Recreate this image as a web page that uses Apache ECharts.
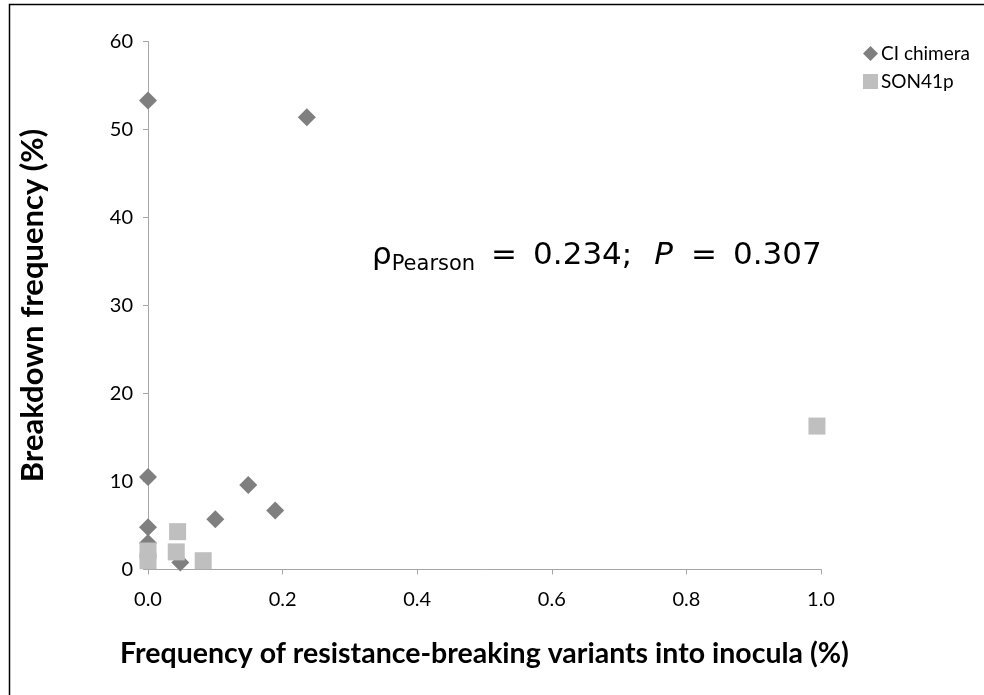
<!DOCTYPE html>
<html><head><meta charset="utf-8">
<script src="https://cdn.jsdelivr.net/npm/echarts@6/dist/echarts.min.js"></script>
<style>html,body{margin:0;padding:0;background:#fff}#c{width:984px;height:695px}</style>
</head><body><div id="c"></div>
<script>
const seriesNames = ['CI chimera', 'SON41p'];
const ciX = [0, 0.236, 0, 0, 0, 0, 0.048, 0.100, 0.149, 0.189];
const ciY = [53.3, 51.4, 10.5, 4.8, 3.0, 1.5, 0.8, 5.7, 9.6, 6.7];
const sonX = [0, 0, 0.044, 0.042, 0.082, 0.994];
const sonY = [2.1, 1.0, 4.3, 2.0, 1.0, 16.3];
const xTicks = [0, 0.2, 0.4, 0.6, 0.8, 1.0];
const yTicks = [0, 10, 20, 30, 40, 50, 60];
const xTitle = 'Frequency of resistance-breaking variants into inocula (%)';
const yTitle = 'Breakdown frequency (%)';

const chart = echarts.init(document.getElementById('c'));
const lab = {fontFamily: 'Lato', fontSize: 20, color: '#000'};
const ann = {fontFamily: 'DejaVu Sans', fontSize: 31, fill: '#000'};
chart.setOption({
  animation: false,
  backgroundColor: '#fff',
  grid: {left: 148, right: 163, top: 41.5, bottom: 125.5},
  legend: {
    orient: 'vertical', left: 858, top: 39, itemGap: 9,
    itemWidth: 15, itemHeight: 15,
    textStyle: {fontFamily: 'Lato', fontSize: 19, color: '#000', padding: [0, 0, 0, -2]},
    data: [{name: seriesNames[0], icon: 'diamond'}, {name: seriesNames[1], icon: 'rect'}]
  },
  xAxis: {
    type: 'value', min: xTicks[0], max: xTicks[xTicks.length - 1], interval: 0.2,
    splitLine: {show: false},
    axisLine: {lineStyle: {color: '#a6a6a6', width: 1}},
    axisTick: {show: true, length: 5, lineStyle: {color: '#a6a6a6'}},
    axisLabel: Object.assign({margin: 20, formatter: v => v.toFixed(1)}, lab),
    name: xTitle, nameLocation: 'middle', nameGap: 70,
    nameTextStyle: {fontFamily: 'Lato', fontWeight: 'bold', fontSize: 28.5, color: '#000'}
  },
  yAxis: {
    type: 'value', min: yTicks[0], max: yTicks[yTicks.length - 1], interval: 10,
    splitLine: {show: false},
    axisLine: {show: true, lineStyle: {color: '#a6a6a6', width: 1}},
    axisTick: {show: true, length: 5, lineStyle: {color: '#a6a6a6'}},
    axisLabel: Object.assign({margin: 15}, lab),
    name: yTitle, nameLocation: 'middle', nameGap: 100,
    nameTextStyle: {fontFamily: 'Lato', fontWeight: 'bold', fontSize: 31, color: '#000'}
  },
  graphic: [
    {type: 'rect', shape: {x: 9.5, y: 4.5, width: 1000, height: 1000}, style: {fill: 'none', stroke: '#000', lineWidth: 1.5}, silent: true, z: 100},
    {type: 'text', left: 372, top: 240, style: {
      rich: {
        a: ann,
        s: {fontFamily: 'DejaVu Sans', fontSize: 21, fill: '#000', padding: [18, 0, 0, 0]},
        e1: Object.assign({padding: [0, 0, 0, 16]}, ann),
        n1: Object.assign({padding: [0, 0, 0, 16]}, ann),
        p: Object.assign({fontStyle: 'italic', padding: [0, 0, 0, 22]}, ann),
        e2: Object.assign({padding: [0, 0, 0, 18]}, ann),
        n2: Object.assign({padding: [0, 0, 0, 16]}, ann)
      },
      text: '{a|ρ}{s|Pearson}{e1|=}{n1|0.234;}{p|P}{e2|=}{n2|0.307}'
    }}
  ],
  series: [
    {name: seriesNames[1], type: 'scatter', symbol: 'rect', symbolSize: 17,
     itemStyle: {color: '#bfbfbf', opacity: 1}, z: 2,
     data: sonX.map((x, i) => [x, sonY[i]])},
    {name: seriesNames[0], type: 'scatter', symbol: 'diamond', symbolSize: 18,
     itemStyle: {color: '#7f7f7f', opacity: 1}, z: 1,
     data: ciX.map((x, i) => [x, ciY[i]])}
  ]
});
</script></body></html>
